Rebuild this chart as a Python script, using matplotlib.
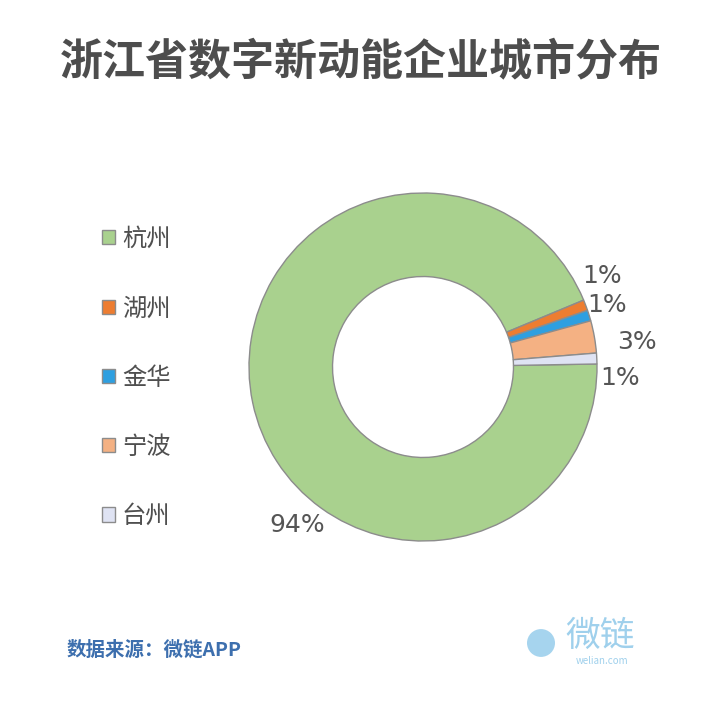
import matplotlib
matplotlib.use("Agg")
import matplotlib.pyplot as plt
from matplotlib.patches import Circle

plt.rcParams['font.family'] = ['Noto Sans CJK SC', 'DejaVu Sans']

# ---- data ----
cities = ["杭州", "湖州", "金华", "宁波", "台州"]
shares = [94, 1, 1, 3, 1]
pct_labels = ["94%", "1%", "1%", "3%", "1%"]
colors = ["#a9d18e", "#ed7d31", "#2e9fe0", "#f4b183", "#dfe3f3"]
title = "浙江省数字新动能企业城市分布"
source = "数据来源：微链APP"

W, H = 705, 701
fig = plt.figure(figsize=(W / 100, H / 100), dpi=100)
fig.patch.set_facecolor("white")

R_PX = 174.0
cx, cy = 423, 701 - 367
ax = fig.add_axes([0, 0, 1, 1])

wedges, _ = ax.pie(shares, colors=colors, startangle=1, counterclock=False,
                   radius=1.0,
                   wedgeprops=dict(width=0.48, edgecolor="#8c8c8c", linewidth=1.0))
ax.set_aspect("auto")
ax.set_xlim(-cx / R_PX, (W - cx) / R_PX)
ax.set_ylim(-cy / R_PX, (H - cy) / R_PX)
ax.axis("off")

# percentage labels (positions in data units relative to pie centre)
label_pos = [(-0.724, -0.908), (1.029, 0.523), (1.057, 0.356), (1.23, 0.144), (1.132, -0.063)]
for txt, (x, y) in zip(pct_labels, label_pos):
    ax.text(x, y, txt, ha="center", va="center", fontsize=18, color="#555555",
            family=["DejaVu Sans"])

# legend
leg = ax.legend(wedges, cities, loc="upper left", bbox_to_anchor=(102 / W, 1 - 226 / H),
                bbox_transform=fig.transFigure, frameon=False, fontsize=17.5,
                handlelength=0.52, handleheight=0.52, handletextpad=0.3,
                labelspacing=1.78, borderaxespad=0, borderpad=0)
for t in leg.get_texts():
    t.set_color("#4f4f4f")

# title
fig.text(361 / W, 1 - 61 / H, title, ha="center", va="center", fontsize=31,
         fontweight="heavy", color="#4d4d4d")

# source
fig.text(67 / W, 1 - 650 / H, source, ha="left", va="center", fontsize=14,
         fontweight="bold", color="#3d6fae")

# logo approximation
fig.text(600 / W, 1 - 636 / H, "微链", ha="center", va="center", fontsize=25,
         fontweight="light", color="#9fd0ec")
fig.text(602 / W, 1 - 661 / H, "welian.com", ha="center", va="center", fontsize=7,
         color="#9fd0ec")
logo = Circle((541 / W, 1 - 643 / H), 14 / W, transform=fig.transFigure,
              facecolor="#a6d4ee", edgecolor="none")
fig.patches.append(logo)

fig.savefig("out.png", dpi=100, facecolor="white")
